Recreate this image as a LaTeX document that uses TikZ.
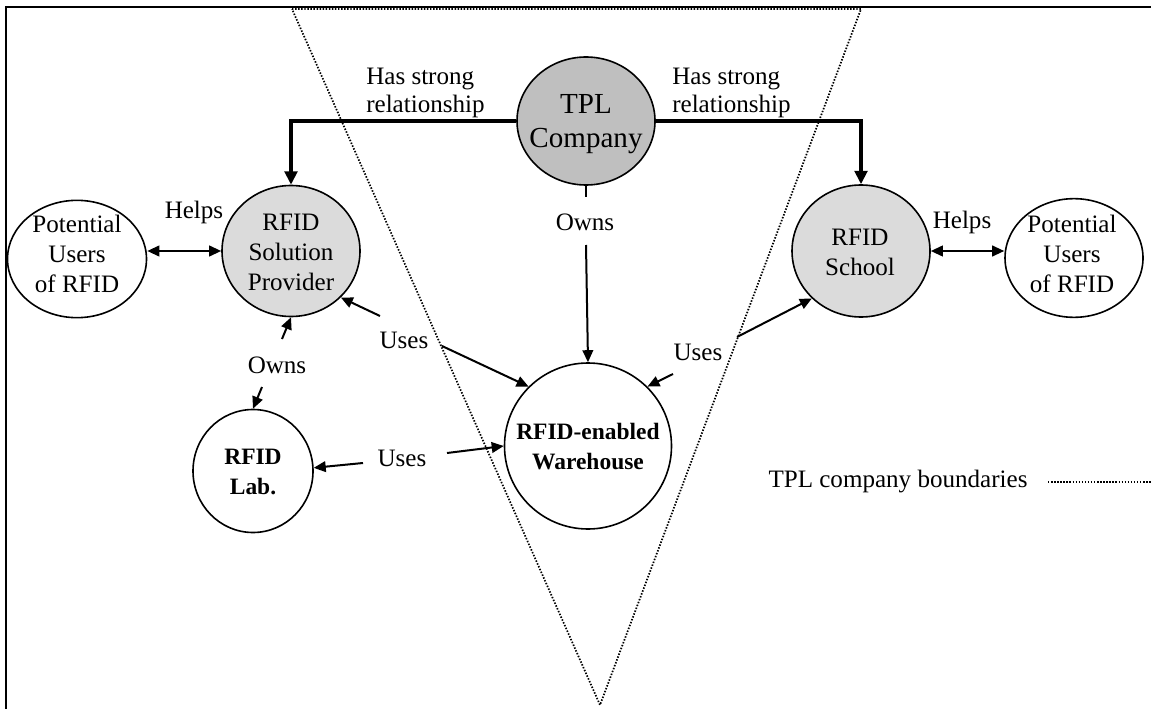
\documentclass[tikz,border=0pt]{standalone}
\usepackage{fontspec}
\setmainfont{Liberation Serif}
\usetikzlibrary{arrows.meta,shapes.geometric}

\begin{document}
\begin{tikzpicture}[x=0.75pt,y=-0.75pt,
  txt/.style={inner sep=0pt, align=center, font=\fontsize{18.8}{22.5}\selectfont},
  boldtxt/.style={txt, font=\bfseries\fontsize{17.6}{22.5}\selectfont},
  ent/.style={ellipse, draw, line width=1.2pt, inner sep=0pt},
  lbl/.style={inner sep=0pt, align=left, font=\fontsize{18.8}{21}\selectfont},
  thin/.style={line width=1.5pt},
  arr/.style={thin, -{Triangle[length=9pt,width=8pt]}},
  arrboth/.style={thin, {Triangle[length=9pt,width=8pt]}-{Triangle[length=9pt,width=8pt]}},
  strong/.style={line width=2.4pt, -{Triangle[length=10pt,width=9.5pt]}},
  bound/.style={line width=1.3pt, dash pattern=on 1.1pt off 1.2pt},
]
\useasboundingbox (0,0) rectangle (1151,709);
\fill[white] (0,0) rectangle (1151,709);

% company boundary (inverted triangle)
\coordinate (tl) at (292,9);
\coordinate (tr) at (861,9);
\coordinate (tb) at (600,705);
\draw[bound] (tl) -- (tr) -- (tb) -- cycle;

% outer frame
\draw[line width=2pt] (1160,7) -- (6,7) -- (6,715);

% entities: outlines
\node[ent, fill=black!25, minimum width=103.5pt, minimum height=96pt] (tpl) at (586,121) {};
\node[ent, fill=black!14, minimum width=103.5pt, minimum height=98.25pt] (sp) at (291,251) {};
\node[ent, fill=black!14, minimum width=103.5pt, minimum height=99pt] (sc) at (861,251) {};
\node[ent, minimum width=104.25pt, minimum height=88pt] (pl) at (77,259) {};
\node[ent, minimum width=103.5pt, minimum height=89pt] (pr) at (1074,258) {};
\node[ent, minimum width=90pt, minimum height=92.25pt] (lab) at (253,471) {};
\node[ent, minimum width=125.25pt, minimum height=124.5pt] (wh) at (588,446) {};

% entities: names
\node[txt, font=\fontsize{21.8}{26}\selectfont] (tplt) at (586,124) {TPL\\Company};
\node[txt] (spt) at (291,252) {RFID\\Solution\\Provider};
\node[txt] (sct) at (860,252) {RFID\\School};
\node[txt] (plt) at (77,254) {Potential\\Users\\of RFID};
\node[txt] (prt) at (1072,254) {Potential\\Users\\of RFID};
\node[boldtxt] (labt) at (253,472) {RFID\\Lab.};
\node[boldtxt] (wht) at (588,447) {RFID-enabled\\Warehouse};

% strong relationships
\draw[strong] (tpl.west) -| (sp.north);
\draw[strong] (tpl.east) -| (sc.north);
\node[lbl, anchor=west] (hsl) at (366,93) {Has strong\\relationship};
\node[lbl, anchor=west] (hsr) at (672,93) {Has strong\\relationship};

% helps
\draw[arrboth] (sp.west) -- (sp.west -| pl.east);
\draw[arrboth] (sc.east) -- (sc.east -| pr.west);
\node[lbl] (hl) at (194,212) {Helps};
\node[lbl] (hr) at (962,222) {Helps};

% TPL owns the warehouse
\coordinate (ow1) at (586,197);
\coordinate (ow2) at (586,245);
\draw[thin] (tpl.south) -- (ow1);
\draw[arr] (ow2) -- (wh.north);
\node[lbl] (owt) at (585,222) {Owns};

% solution provider owns the lab
\coordinate (os1) at (282,339);
\coordinate (os2) at (262,387);
\draw[arr] (os1) -- (sp.south);
\draw[arr] (os2) -- (lab.north);
\node[lbl] (ows) at (277,365) {Owns};

% warehouse uses solution provider
\coordinate (ua1) at (380,316);
\coordinate (ua2) at (442,346);
\draw[arr] (ua1) -- (sp.-43);
\draw[arr] (ua2) -- (wh.135);
\node[lbl] (uat) at (404,340) {Uses};

% lab and warehouse
\coordinate (ub1) at (363,463);
\coordinate (ub2) at (447,453);
\draw[arr] (ub1) -- (lab.3);
\draw[arr] (ub2) -- (wh.west);
\node[lbl] (ubt) at (402,458) {Uses};

% warehouse and school
\coordinate (uc1) at (673,374);
\coordinate (uc2) at (737,337);
\draw[arr] (uc1) -- (wh.45);
\draw[arr] (uc2) -- (sc.-136);
\node[lbl] (uct) at (698,352) {Uses};

% legend
\node[lbl] (leg) at (898,482) {TPL company boundaries};
\coordinate (lg1) at (1048,482);
\coordinate (lg2) at (1151,482);
\draw[bound] (lg1) -- (lg2);
\end{tikzpicture}
\end{document}
